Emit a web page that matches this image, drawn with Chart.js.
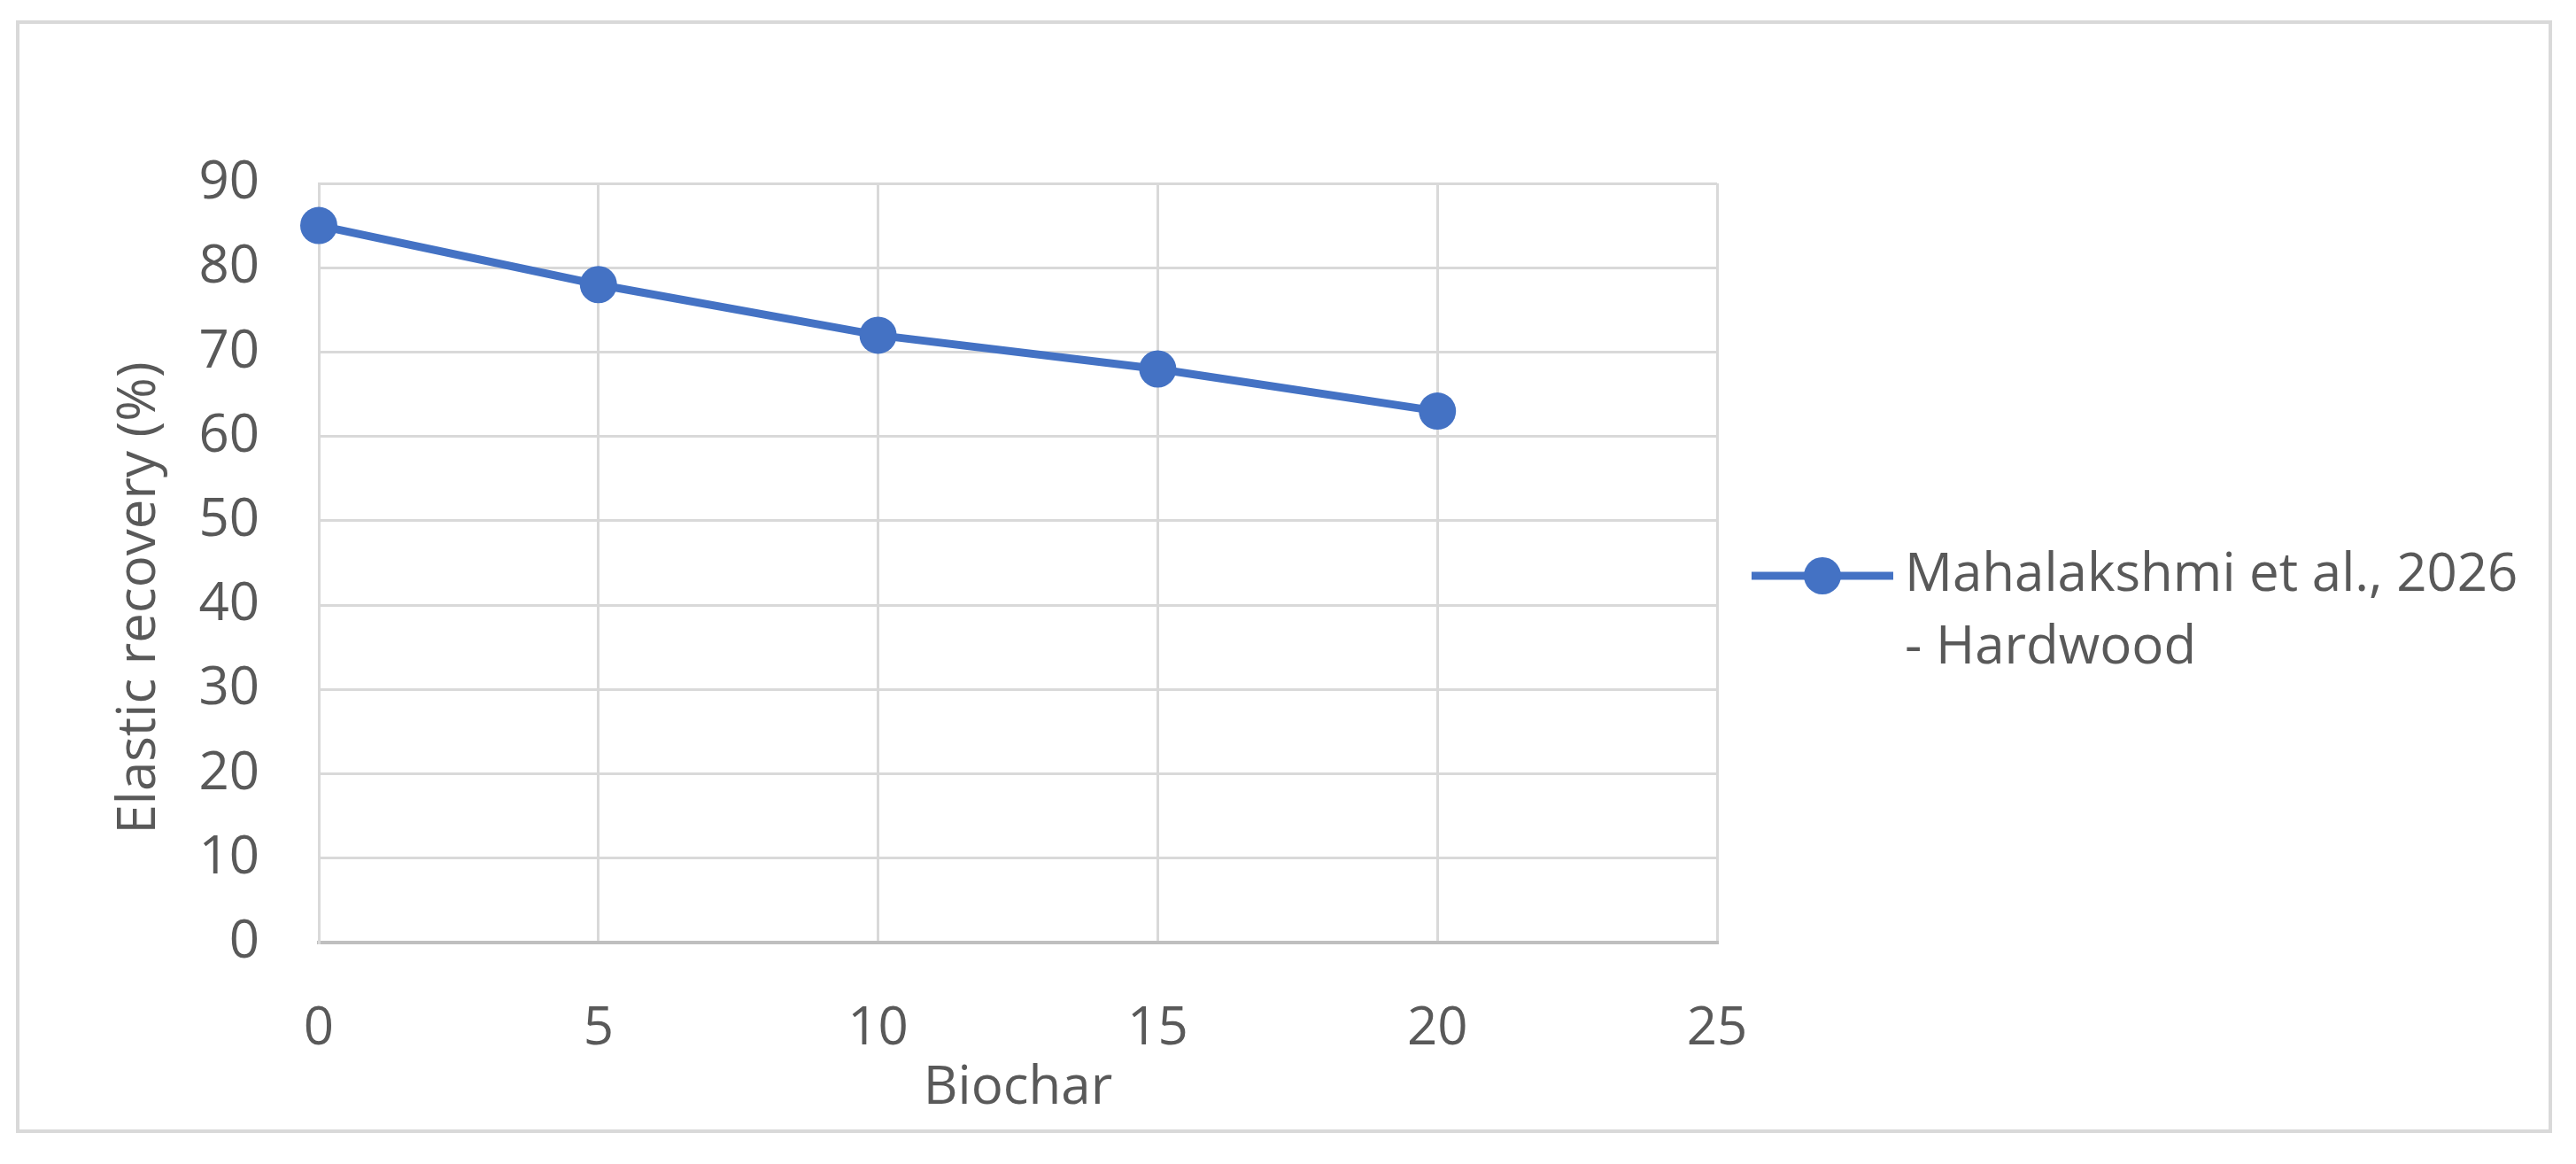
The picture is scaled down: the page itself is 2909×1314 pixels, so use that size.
<!DOCTYPE html>
<html>
<head>
<meta charset="utf-8">
<script src="https://cdn.jsdelivr.net/npm/chart.js@4.4.1/dist/chart.umd.min.js"></script>
<style>
  html, body { margin: 0; padding: 0; background: #fff; }
  #wrap { position: relative; width: 2909px; height: 1314px; }
  #frame {
    position: absolute; left: 18px; top: 23px; width: 2864px; height: 1256px;
    border: 4px solid #d9d9d9; box-sizing: border-box;
  }
  canvas { position: absolute; left: 0; top: 0; }
</style>
</head>
<body>
<div id="wrap">
  <div id="frame"></div>
  <canvas id="chart" width="2909" height="1314"></canvas>
</div>
<script>
  // Values.
  var biochar = [0, 5, 10, 15, 20];
  var elasticRecovery = [85, 78, 72, 68, 63];
  var seriesLabel = ["Mahalakshmi et al., 2026", "- Hardwood"];
  var yTitle = "Elastic recovery (%)";
  var xTicks = [0, 5, 10, 15, 20, 25];
  var yTicks = [0, 10, 20, 30, 40, 50, 60, 70, 80, 90];

  var FONT = "'Open Sans', sans-serif";
  var SIZE = 60;
  var TEXT = "#595959";
  var BLUE = "#4472C4";
  var GRID = "#d9d9d9";

  // Excel-style legend to the right of the plot (wrapped label), plus the
  // y title, which Excel centres a little below the plot's middle.
  var extras = {
    id: "extras",
    afterDraw: function (chart) {
      var ctx = chart.ctx;
      var ds = chart.data.datasets[0];
      var y = 650;
      ctx.save();
      ctx.strokeStyle = ds.borderColor;
      ctx.lineWidth = ds.borderWidth;
      ctx.beginPath();
      ctx.moveTo(1978, y);
      ctx.lineTo(2138, y);
      ctx.stroke();
      ctx.fillStyle = ds.pointBackgroundColor;
      ctx.beginPath();
      ctx.arc(2058, y, ds.pointRadius, 0, Math.PI * 2);
      ctx.fill();
      ctx.fillStyle = TEXT;
      ctx.font = SIZE + "px " + FONT;
      ctx.textBaseline = "middle";
      ctx.textAlign = "left";
      seriesLabel.forEach(function (line, i) {
        ctx.fillText(line, 2151, y + i * 82);
      });

      ctx.translate(158, 675);
      ctx.rotate(-Math.PI / 2);
      ctx.textAlign = "center";
      ctx.fillText(yTitle, 0, 0);
      ctx.restore();
    },
  };

  new Chart(document.getElementById("chart"), {
    type: "line",
    data: {
      datasets: [
        {
          label: seriesLabel.join(" "),
          data: biochar.map(function (x, i) {
            return { x: x, y: elasticRecovery[i] };
          }),
          borderColor: BLUE,
          backgroundColor: BLUE,
          pointBackgroundColor: BLUE,
          pointBorderColor: BLUE,
          borderWidth: 9,
          pointRadius: 21,
          pointBorderWidth: 0,
          tension: 0,
          clip: false,
        },
      ],
    },
    plugins: [extras],
    options: {
      responsive: false,
      animation: false,
      devicePixelRatio: 1,
      layout: { padding: { left: 0, top: 207, right: 970, bottom: 0 } },
      plugins: { legend: { display: false }, tooltip: { enabled: false } },
      scales: {
        x: {
          type: "linear",
          min: 0,
          max: 25,
          afterBuildTicks: function (scale) {
            scale.ticks = xTicks.map(function (v) { return { value: v }; });
          },
          afterFit: function (scale) { scale.height = 250; },
          grid: { color: GRID, lineWidth: 3, drawTicks: false },
          border: { color: "#bfbfbf", width: 4 },
          ticks: { color: TEXT, padding: 62, font: { family: FONT, size: SIZE } },
          title: {
            display: true,
            text: "Biochar",
            color: TEXT,
            font: { family: FONT, size: SIZE },
            padding: { top: 0, bottom: 49 },
          },
        },
        y: {
          min: 0,
          max: 90,
          afterBuildTicks: function (scale) {
            scale.ticks = yTicks.map(function (v) { return { value: v }; });
          },
          afterFit: function (scale) { scale.width = 360; },
          grid: { color: GRID, lineWidth: 3, drawTicks: false },
          border: { color: GRID, width: 3 },
          ticks: { color: TEXT, padding: 67, font: { family: FONT, size: SIZE } },
        },
      },
    },
  });
</script>
</body>
</html>
